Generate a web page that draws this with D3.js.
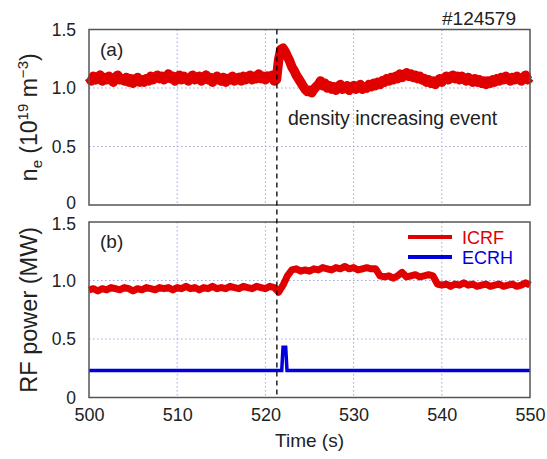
<!DOCTYPE html>
<html>
<head>
<meta charset="utf-8">
<script src="https://cdn.jsdelivr.net/npm/d3@7/dist/d3.min.js"></script>
<style>
body { margin: 0; background: #fff; }
svg text { font-family: "Liberation Sans", Arial, sans-serif; fill: #222; }
</style>
</head>
<body>
<div id="chart"></div>
<script>
// shot #124579, time axis in seconds
var t_start = 500, t_end = 550;
var x_ticks = [500, 510, 520, 530, 540, 550];
var y_ticks = [0, 0.5, 1.0, 1.5];
var y_tick_labels = ["0", "0.5", "1.0", "1.5"];
var event_t = 521.3;

// line-averaged density, one sample every 0.25 s
var dens_dt = 0.25;
var dens = [
  1.09, 1.06, 1.10, 1.07, 1.08, 1.11, 1.06, 1.09,
  1.07, 1.10, 1.08, 1.05, 1.09, 1.11, 1.07, 1.08,
  1.06, 1.09, 1.05, 1.08, 1.04, 1.07, 1.09, 1.05,
  1.07, 1.05, 1.08, 1.06, 1.10, 1.07, 1.09, 1.11,
  1.08, 1.10, 1.07, 1.09, 1.12, 1.08, 1.10, 1.06,
  1.09, 1.11, 1.07, 1.10, 1.08, 1.06, 1.09, 1.11,
  1.07, 1.09, 1.10, 1.06, 1.08, 1.11, 1.07, 1.09,
  1.05, 1.08, 1.10, 1.07, 1.06, 1.09, 1.05, 1.08,
  1.07, 1.10, 1.06, 1.08, 1.09, 1.06, 1.10, 1.07,
  1.09, 1.11, 1.07, 1.10, 1.08, 1.12, 1.08, 1.10,
  1.07, 1.10, 1.09, 1.11, 1.06, 1.07, 1.24, 1.33,
  1.34, 1.31, 1.27, 1.23, 1.18, 1.15, 1.11, 1.08,
  1.05, 1.02, 0.99, 0.97, 0.98, 0.96, 0.99, 1.01,
  1.03, 1.06, 1.02, 1.04, 1.00, 1.02, 0.99, 1.01,
  0.98, 1.01, 1.03, 0.99, 1.00, 1.02, 0.98, 1.01,
  1.02, 0.99, 1.01, 1.03, 0.99, 1.01, 1.00, 1.03,
  1.01, 1.04, 1.02, 1.05, 1.03, 1.06, 1.05, 1.08,
  1.06, 1.09, 1.07, 1.10, 1.08, 1.12, 1.09, 1.11,
  1.13, 1.10, 1.12, 1.09, 1.11, 1.08, 1.10, 1.07,
  1.08, 1.05, 1.07, 1.04, 1.06, 1.03, 1.06, 1.08,
  1.05, 1.08, 1.10, 1.07, 1.09, 1.11, 1.08, 1.10,
  1.07, 1.10, 1.08, 1.06, 1.09, 1.07, 1.05, 1.08,
  1.05, 1.07, 1.04, 1.06, 1.03, 1.06, 1.04, 1.07,
  1.05, 1.08, 1.06, 1.09, 1.07, 1.10, 1.08, 1.06,
  1.09, 1.07, 1.10, 1.08, 1.06, 1.09, 1.11, 1.07,
  1.09
];

// ICRF power, one sample every 0.5 s
var icrf_dt = 0.5;
var icrf = [
  0.92, 0.93, 0.91, 0.93, 0.92, 0.94, 0.93, 0.92, 0.94, 0.93,
  0.91, 0.93, 0.92, 0.94, 0.93, 0.92, 0.94, 0.93, 0.94, 0.92,
  0.94, 0.93, 0.95, 0.93, 0.94, 0.92, 0.94, 0.93, 0.95, 0.93,
  0.94, 0.93, 0.95, 0.94, 0.93, 0.95, 0.94, 0.93, 0.95, 0.94,
  0.93, 0.95, 0.94, 0.90, 0.96, 1.04, 1.09, 1.10, 1.08, 1.09,
  1.08, 1.10, 1.09, 1.11, 1.10, 1.09, 1.11, 1.10, 1.12, 1.10,
  1.11, 1.09, 1.10, 1.11, 1.10, 1.10, 1.04, 1.03, 1.04, 1.02,
  1.04, 1.07, 1.03, 1.04, 1.05, 1.03, 1.04, 1.05, 1.04, 0.97,
  0.96, 0.97, 0.95, 0.97, 0.96, 0.98, 0.96, 0.97, 0.95, 0.96,
  0.97, 0.95, 0.96, 0.97, 0.95, 0.96, 0.97, 0.95, 0.96, 0.98,
  0.96
];

// ECRH power (flat with one short pulse)
var ecrh_t = [500, 521.85, 522.0, 522.3, 522.45, 550];
var ecrh = [0.23, 0.23, 0.43, 0.43, 0.23, 0.23];

var legend_names = ["ICRF", "ECRH"];
var legend_colors = ["#e00000", "#0000dd"];

var W = 547, H = 459;
var left = 89, right = 530;

var svg = d3.select("#chart")
    .append("svg")
    .attr("width", W)
    .attr("height", H);

var x = d3.scaleLinear().domain([t_start, t_end]).range([left, right]);

// nudge: the reference lifts panel (a)'s "0" and drops panel (b)'s "1.5" a little
var panels = [
  { top: 29.5, bottom: 205, tag: "(a)", nudge: { 0: -2 } },
  { top: 222, bottom: 397.5, tag: "(b)", nudge: { 1.5: 2 } }
];

var make_panel = function(p, show_x) {
    var y = d3.scaleLinear().domain([0, 1.5]).range([p.bottom, p.top]);
    p.y = y;
    var g = svg.append("g");

    // dotted grid
    g.selectAll(".vg")
        .data(x_ticks.slice(1, -1))
        .enter().append("line")
        .attr("x1", function(d) { return x(d); })
        .attr("x2", function(d) { return x(d); })
        .attr("y1", p.top).attr("y2", p.bottom)
        .attr("stroke", "#9fa6e6").attr("stroke-width", 1)
        .attr("stroke-dasharray", "1.5,2.5");
    g.selectAll(".hg")
        .data(y_ticks.slice(1, -1))
        .enter().append("line")
        .attr("x1", left).attr("x2", right)
        .attr("y1", function(d) { return y(d); })
        .attr("y2", function(d) { return y(d); })
        .attr("stroke", "#9fa6e6").attr("stroke-width", 1)
        .attr("stroke-dasharray", "1.5,2.5");

    var ya = g.append("g")
        .attr("transform", "translate(" + (left - 10) + ",0)")
        .call(d3.axisLeft(y).tickValues(y_ticks).tickSize(0)
            .tickFormat(function(d, i) { return y_tick_labels[i]; }));
    ya.select(".domain").remove();
    ya.selectAll("text").attr("font-size", 17.5).attr("fill", "#222")
        .attr("font-family", "Liberation Sans, Arial, sans-serif")
        .attr("y", function(d) { return p.nudge[d] || 0; });

    if (show_x) {
        var xa = g.append("g")
            .attr("transform", "translate(0," + (p.bottom + 8) + ")")
            .call(d3.axisBottom(x).tickValues(x_ticks).tickSize(0));
        xa.select(".domain").remove();
        xa.selectAll("text").attr("font-size", 18).attr("fill", "#222")
            .attr("font-family", "Liberation Sans, Arial, sans-serif");
    }

    g.append("text")
        .attr("x", 100).attr("y", p.top + 26)
        .attr("font-size", 19)
        .text(p.tag);

    return g;
};

make_panel(panels[0], false);
make_panel(panels[1], true);

var line_of = function(y, dt) {
    return d3.line()
        .x(function(d, i) { return x(t_start + i * dt); })
        .y(function(d) { return y(d); });
};

svg.append("path")
    .datum(dens)
    .attr("d", line_of(panels[0].y, dens_dt))
    .attr("fill", "none")
    .attr("stroke", legend_colors[0])
    .attr("stroke-width", 9.5)
    .attr("stroke-linejoin", "round");

svg.append("path")
    .datum(icrf)
    .attr("d", line_of(panels[1].y, icrf_dt))
    .attr("fill", "none")
    .attr("stroke", legend_colors[0])
    .attr("stroke-width", 7)
    .attr("stroke-linejoin", "round");

svg.append("path")
    .datum(ecrh)
    .attr("d", d3.line()
        .x(function(d, i) { return x(ecrh_t[i]); })
        .y(function(d) { return panels[1].y(d); }))
    .attr("fill", "none")
    .attr("stroke", legend_colors[1])
    .attr("stroke-width", 3.5);

// frames on top of traces
panels.forEach(function(p) {
    svg.append("rect")
        .attr("x", left).attr("y", p.top)
        .attr("width", right - left).attr("height", p.bottom - p.top)
        .attr("fill", "none")
        .attr("stroke", "#555").attr("stroke-width", 1.5);
});

// event marker
svg.append("line")
    .attr("x1", x(event_t)).attr("x2", x(event_t))
    .attr("y1", panels[0].top).attr("y2", panels[1].bottom)
    .attr("stroke", "#000").attr("stroke-width", 1.3)
    .attr("stroke-dasharray", "5,4");

svg.append("text")
    .attr("x", 288).attr("y", 125)
    .attr("font-size", 19.5)
    .text("density increasing event");

svg.append("text")
    .attr("x", 516).attr("y", 25)
    .attr("text-anchor", "end")
    .attr("font-size", 19)
    .text("#124579");

// legend
legend_names.forEach(function(name, i) {
    var ly = 237 + i * 20;
    svg.append("line")
        .attr("x1", 408).attr("x2", 452)
        .attr("y1", ly).attr("y2", ly)
        .attr("stroke", legend_colors[i]).attr("stroke-width", 4);
    svg.append("text")
        .attr("x", 462).attr("y", ly + 6.5)
        .attr("font-size", 18)
        .style("fill", legend_colors[i])
        .text(name);
});

// axis titles
var ne = svg.append("text")
    .attr("transform", "translate(37," + ((panels[0].top + panels[0].bottom) / 2) + ") rotate(-90)")
    .attr("text-anchor", "middle")
    .attr("font-size", 23);
ne.append("tspan").text("n");
ne.append("tspan").attr("font-size", 15).attr("dy", 5).text("e");
ne.append("tspan").attr("dy", -5).text(" (10");
ne.append("tspan").attr("font-size", 15).attr("dy", -9).text("19");
ne.append("tspan").attr("dy", 9).text(" m");
ne.append("tspan").attr("font-size", 15).attr("dy", -9).text("\u22123");
ne.append("tspan").attr("dy", 9).text(")");

svg.append("text")
    .attr("transform", "translate(37," + ((panels[1].top + panels[1].bottom) / 2) + ") rotate(-90)")
    .attr("text-anchor", "middle")
    .attr("font-size", 23.5)
    .text("RF power (MW)");

svg.append("text")
    .attr("x", (left + right) / 2).attr("y", 447)
    .attr("text-anchor", "middle")
    .attr("font-size", 19)
    .text("Time (s)");
</script>
</body>
</html>
